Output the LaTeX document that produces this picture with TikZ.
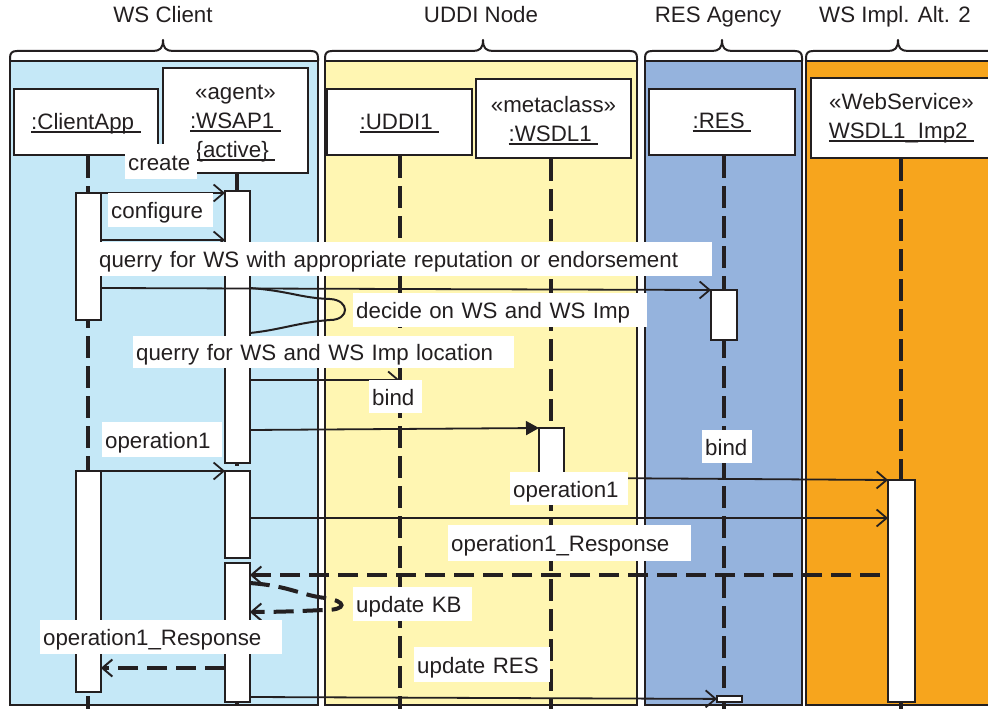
\documentclass[tikz,border=0pt]{standalone}
\usepackage{fontspec}
\setmainfont{Liberation Sans}
\usetikzlibrary{arrows.meta}
\definecolor{ink}{HTML}{231F20}
\definecolor{laneblue}{RGB}{197,232,247}
\definecolor{laneyellow}{RGB}{255,246,178}
\definecolor{laneres}{RGB}{149,179,221}
\definecolor{laneorange}{RGB}{247,165,29}
\newcommand\myul[1]{\setbox0\hbox{#1\hspace{0.3em}}\rlap{\smash{\rule[-3.5pt]{\wd0}{1.8pt}}}\copy0}
\tikzset{
  lanebody/.style={draw=ink, line width=2pt},
  lanehead/.style={draw=ink, line width=2pt, line join=round},
  lanetitle/.style={text=ink, inner sep=0pt, anchor=base},
  objbox/.style={draw=ink, fill=white, line width=2.2pt, align=center, inner sep=0pt, text=ink},
  lifeline/.style={draw=ink, line width=4pt, dash pattern=on 22pt off 8pt},
  actbar/.style={draw=ink, fill=white, line width=1.8pt, anchor=north west, inner sep=0pt},
  msg/.style={draw=ink, line width=1.8pt, -{Straight Barb[length=10pt,width=17pt,line width=1.8pt]}},
  syncmsg/.style={draw=ink, line width=1.8pt, -{Triangle[length=13pt,width=14pt]}},
  reply/.style={draw=ink, line width=4pt, dash pattern=on 20pt off 9pt, -{Straight Barb[length=10pt,width=17pt,line width=2pt]}},
  selfcall/.style={draw=ink, line width=2pt},
  lbl/.style={fill=white, anchor=north west, inner xsep=3pt, inner ysep=0pt, align=left, text=ink, text height=19pt, text depth=2pt},
}
\begin{document}
\begin{tikzpicture}[x=1pt, y=-1pt, font=\fontsize{22.3}{29}\selectfont]
\useasboundingbox (0,0) rectangle (988,709);
\clip (0,0) rectangle (988,709);
\fill[white] (0,0) rectangle (988,709);

% lanes
\fill[laneblue] (10,61) rectangle (318,705);
\fill[laneyellow] (325,61) rectangle (637,705);
\fill[laneres] (645,61) rectangle (802,705);
\fill[laneorange] (806,61) rectangle (1000,705);
\draw[lanebody] (10,61) rectangle (318,705);
\draw[lanebody] (325,61) rectangle (637,705);
\draw[lanebody] (645,61) rectangle (802,705);
\draw[lanebody] (806,61) rectangle (1000,705);
\foreach \xa/\xb/\xc in {10/318/163, 325/637/483, 645/802/722, 806/1000/898}{
  \draw[lanehead] (\xa,61) -- (\xa,58) .. controls (\xa,53) and (\xa+2,51) .. (\xa+7,51)
    -- (\xc-10,51) .. controls (\xc-3,51) and (\xc,48) .. (\xc,40)
    .. controls (\xc,48) and (\xc+3,51) .. (\xc+10,51)
    -- (\xb-7,51) .. controls (\xb-2,51) and (\xb,53) .. (\xb,58) -- (\xb,61);
}
\node[lanetitle] (t1) at (163,23) {WS Client};
\node[lanetitle] (t2) at (481,23) {UDDI Node};
\node[lanetitle] (t3) at (718,23) {RES Agency};
\node[lanetitle] (t4) at (895,23) {WS Impl. Alt. 2};

% objects
\node[objbox, minimum width=144pt, minimum height=66pt, text height=15pt, text depth=0pt] (ca) at (86,122) {\myul{:ClientApp}};
\node[objbox, minimum width=145pt, minimum height=105pt, text height=73pt, text depth=0pt] (ws) at (235.5,120.5) {«agent»\\\myul{:WSAP1}\\\myul{\{active\}}};
\node[objbox, minimum width=145pt, minimum height=66pt, text height=15pt, text depth=0pt] (ud) at (399.5,122) {\myul{:UDDI1}};
\node[objbox, minimum width=155pt, minimum height=79pt, text height=45pt, text depth=0pt] (wd) at (553.5,118.5) {«metaclass»\\\myul{:WSDL1}};
\node[objbox, minimum width=146pt, minimum height=66pt, text height=13pt, text depth=0pt] (rs) at (722,122) {\myul{:RES}};
\node[objbox, minimum width=181pt, minimum height=80pt, text height=41pt, text depth=0pt] (im) at (901.5,118) {«WebService»\\\myul{WSDL1\_Imp2}};

% activation bars (positions)
\node[actbar, minimum width=23pt, minimum height=125pt] (ca1) at (76,193) {};
\node[actbar, minimum width=23pt, minimum height=219pt] (ca2) at (76,471) {};
\node[actbar, minimum width=23pt, minimum height=270pt] (wa1) at (225,191) {};
\node[actbar, minimum width=23pt, minimum height=85pt] (wa2) at (225,471) {};
\node[actbar, minimum width=23pt, minimum height=137pt] (wa3) at (225,563) {};
\node[actbar, minimum width=23pt, minimum height=48pt] (wd1) at (539,428) {};
\node[actbar, minimum width=24pt, minimum height=48pt] (rs1) at (711,290) {};
\node[actbar, minimum width=23pt, minimum height=4pt] (rs2) at (717,696) {};
\node[actbar, minimum width=25pt, minimum height=220pt] (im1) at (888,480) {};

% lifelines
\draw[lifeline] (ca.south -| ca1) -- (ca1.north |- 0,712);
\draw[lifeline] (ws.south -| wa1) -- (wa1.north |- 0,712);
\draw[lifeline] (ud.south) -- (ud.south |- 0,712);
\draw[lifeline] (wd.south -| wd1) -- (wd1.north |- 0,712);
\draw[lifeline] (rs.south -| rs1) -- (rs1.north |- 0,712);
\draw[lifeline] (im.south -| im1) -- (im1.north |- 0,712);

% redraw bars on top of lifelines
\foreach \b in {ca1,ca2,wa1,wa2,wa3,wd1,rs1,rs2,im1}{
  \draw[draw=ink, fill=white, line width=1.8pt] (\b.north west) rectangle (\b.south east);
}

% messages
\draw[msg] (ca1.north east) -- (ca1.north east -| wa1.west);
\draw[msg] (ca1.east |- 0,240) -- (wa1.west |- 0,240);
\draw[msg] (ca1.east |- 0,288) -- (rs1.north west);
\draw[selfcall] (wa1.east |- 0,288) .. controls (290,291) and (300,298) .. (330,299)
   .. controls (350,300) and (350,320) .. (330,320)
   .. controls (300,322) and (280,330) .. (wa1.east |- 0,333);
\draw[msg] (wa1.east |- 0,380) -- (ud.south |- 0,380);
\draw[syncmsg] (wa1.east |- 0,430) -- (wd1.north west);
\draw[msg] (ca2.north east) -- (wa2.north west);
\draw[msg] (wd1.south east) -- (im1.north west);
\draw[msg] (wa2.east |- 0,518) -- (im1.west |- 0,518);
\coordinate (r1s) at (880,575);
\draw[reply] (r1s) -- (wa3.east |- r1s);
\draw[reply] (wa3.east |- 0,583) .. controls (290,586) and (300,595) .. (325,598)
   .. controls (347,601) and (347,610) .. (325,610)
   .. controls (300,611) and (280,612) .. (wa3.east |- 0,612);
\draw[reply] (wa3.west |- 0,668) -- (ca2.east |- 0,668);
\draw[msg] (wa3.east |- 0,697) -- (rs2.west);

% labels
\node[lbl, text width=66pt, minimum height=35pt] (l1) at (125,144) {create};
\node[lbl, text width=99pt, minimum height=34pt] (l2) at (108,193) {configure};
\node[lbl, text width=610pt, minimum height=34pt] (l3) at (96,242) {\mbox{querry for WS with appropriate reputation or endorsement}};
\node[lbl, text width=288pt, minimum height=34pt] (l4) at (353,293) {\mbox{decide on WS and WS Imp}};
\node[lbl, text width=375pt, minimum height=32pt] (l5) at (133,336) {\mbox{querry for WS and WS Imp location}};
\node[lbl, text width=47pt, minimum height=33pt] (l6) at (369,380) {bind};
\node[lbl, text width=114pt, minimum height=35pt] (l7) at (102,422) {operation1};
\node[lbl, text width=44pt, minimum height=33pt] (l8) at (702,430) {bind};
\node[lbl, text width=112pt, minimum height=33pt] (l9) at (510,472) {operation1};
\node[lbl, text width=237pt, minimum height=36pt] (l10) at (448,525) {\mbox{operation1\_Response}};
\node[lbl, text width=113pt, minimum height=34pt] (l11) at (353,587) {\mbox{update KB}};
\node[lbl, text width=236pt, minimum height=34pt] (l12) at (40,620) {\mbox{operation1\_Response}};
\node[lbl, text width=130pt, minimum height=35pt] (l13) at (414,647) {\mbox{update RES}};
\end{tikzpicture}
\end{document}
